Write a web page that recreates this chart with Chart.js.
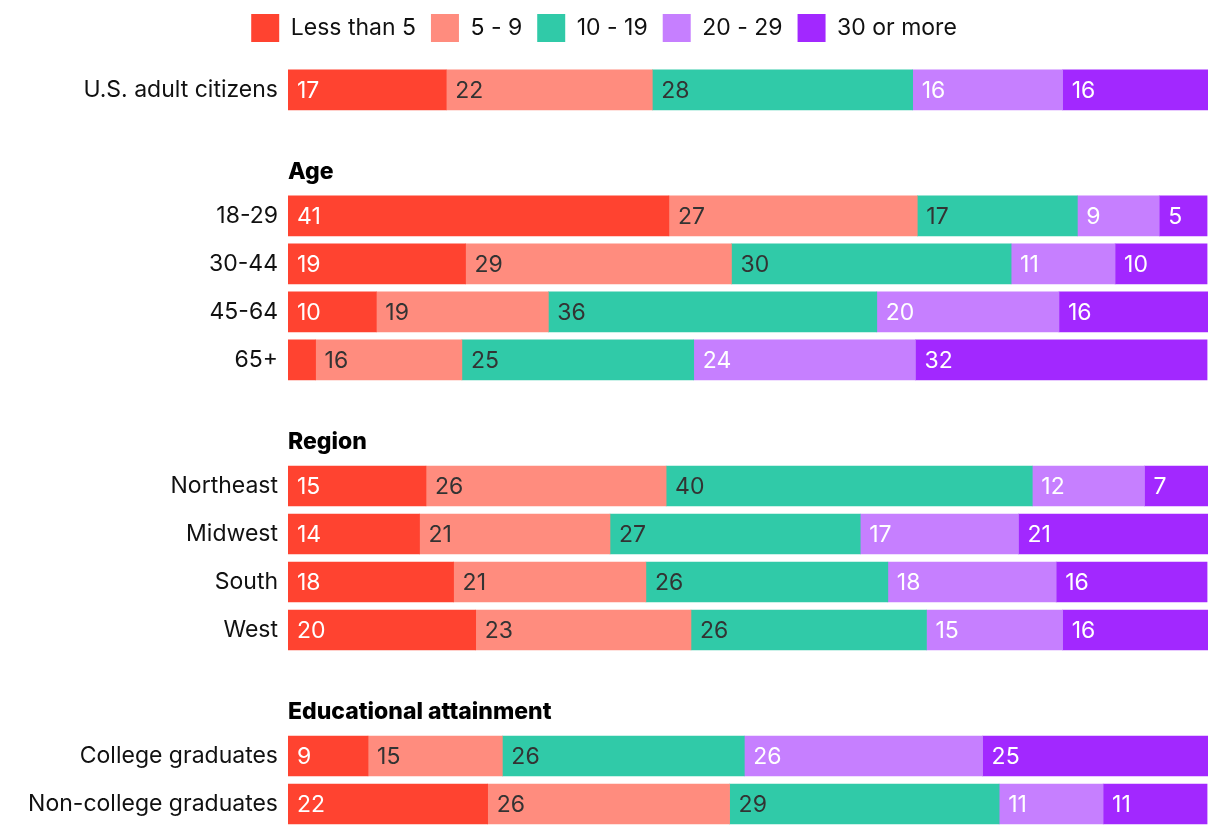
<!DOCTYPE html>
<html><head><meta charset="utf-8">
<script src="https://cdn.jsdelivr.net/npm/chart.js@4.4.1/dist/chart.umd.min.js"></script>
<style>html,body{margin:0;padding:0;background:#fff}canvas{display:block}</style>
</head><body>
<canvas id="c" width="1220" height="834"></canvas>
<script>
// ---- data ----
const seriesNames = ['Less than 5', '5 - 9', '10 - 19', '20 - 29', '30 or more'];
const seriesColors = ['#FF4330', '#FF8C7E', '#30CAA8', '#C67FFF', '#A228FF'];
const labelColors = ['#ffffff', '#333333', '#333333', '#ffffff', '#ffffff'];

const groupTitles = [null, 'Age', 'Region', 'Educational attainment'];
const groupRows = [
  ['U.S. adult citizens'],
  ['18-29', '30-44', '45-64', '65+'],
  ['Northeast', 'Midwest', 'South', 'West'],
  ['College graduates', 'Non-college graduates']
];
const categories = groupRows.flat();

const lessThan5  = [17.2, 41.4, 19.3,  9.6,  3.0, 15.0, 14.3, 18.0, 20.4,  8.7, 21.7];
const from5to9   = [22.4, 27.0, 28.9, 18.7, 15.9, 26.1, 20.7, 20.9, 23.4, 14.6, 26.3];
const from10to19 = [28.3, 17.4, 30.4, 35.7, 25.2, 39.8, 27.2, 26.3, 25.6, 26.3, 29.3];
const from20to29 = [16.3,  8.9, 11.3, 19.8, 24.1, 12.2, 17.2, 18.3, 14.8, 25.9, 11.3];
const thirtyPlus = [15.9,  5.2, 10.0, 16.3, 31.7,  7.0, 20.7, 16.4, 15.8, 24.6, 11.3];
const seriesValues = [lessThan5, from5to9, from10to19, from20to29, thirtyPlus];

// ---- layout of rows (row units) ----
const GROUP_GAP = 1.625, HEADER_OFFSET = 0.917;
const rowPos = [], headers = [];
let p = 0;
groupRows.forEach((rows, g) => {
  if (g > 0) p += GROUP_GAP;
  if (groupTitles[g]) headers.push({ text: groupTitles[g], pos: p - HEADER_OFFSET });
  rows.forEach(() => { rowPos.push(p); p += 1; });
});

const FONT = 'Inter';
const FSIZE = 23;
Chart.defaults.font.family = FONT;

const valueLabels = {
  id: 'valueLabels',
  afterDatasetsDraw(chart) {
    const ctx = chart.ctx;
    ctx.save();
    ctx.font = FSIZE + 'px ' + FONT;
    ctx.textBaseline = 'middle';
    ctx.textAlign = 'left';
    chart.data.datasets.forEach((ds, di) => {
      const meta = chart.getDatasetMeta(di);
      meta.data.forEach((el, i) => {
        const v = ds.data[i].x;
        if (v < 4) return;
        ctx.fillStyle = labelColors[di];
        ctx.fillText(String(Math.round(v)), Math.min(el.base, el.x) + 9, el.y + 1);
      });
    });
    ctx.restore();
  }
};

const groupHeaders = {
  id: 'groupHeaders',
  afterDraw(chart) {
    const ctx = chart.ctx, ys = chart.scales.y;
    ctx.save();
    ctx.font = '800 ' + FSIZE + 'px ' + FONT;
    ctx.fillStyle = '#000';
    ctx.textBaseline = 'middle';
    ctx.textAlign = 'left';
    headers.forEach(h => ctx.fillText(h.text, chart.chartArea.left, ys.getPixelForValue(h.pos)));
    ctx.restore();
  }
};

new Chart(document.getElementById('c'), {
  type: 'bar',
  data: {
    datasets: seriesNames.map((name, si) => ({
      label: name,
      data: seriesValues[si].map((v, i) => ({ x: v, y: rowPos[i] })),
      backgroundColor: seriesColors[si],
      borderWidth: 0,
      barThickness: 40
    }))
  },
  options: {
    indexAxis: 'y',
    responsive: false,
    animation: false,
    layout: { padding: { top: -1, right: 12, bottom: 0, left: 0 } },
    plugins: {
      tooltip: { enabled: false },
      legend: {
        position: 'top',
        align: 'center',
        labels: {
          boxWidth: 28, boxHeight: 28, padding: 15,
          color: '#111', font: { size: FSIZE, family: FONT }
        }
      }
    },
    scales: {
      x: { type: 'linear', stacked: true, min: 0, max: 100, display: false },
      y: {
        type: 'linear', stacked: true, reverse: true, offset: false, min: -0.79, max: 15.5,
        grid: { display: false }, border: { display: false },
        afterBuildTicks(scale) { scale.ticks = rowPos.map(v => ({ value: v })); },
        afterFit(scale) { scale.width = 288; scale.paddingTop = 0; scale.paddingBottom = 0; },
        ticks: {
          autoSkip: false, padding: 2, color: '#111',
          font: { size: FSIZE, family: FONT },
          callback: (v, i) => categories[i]
        }
      }
    }
  },
  plugins: [valueLabels, groupHeaders]
});
</script>
</body></html>
